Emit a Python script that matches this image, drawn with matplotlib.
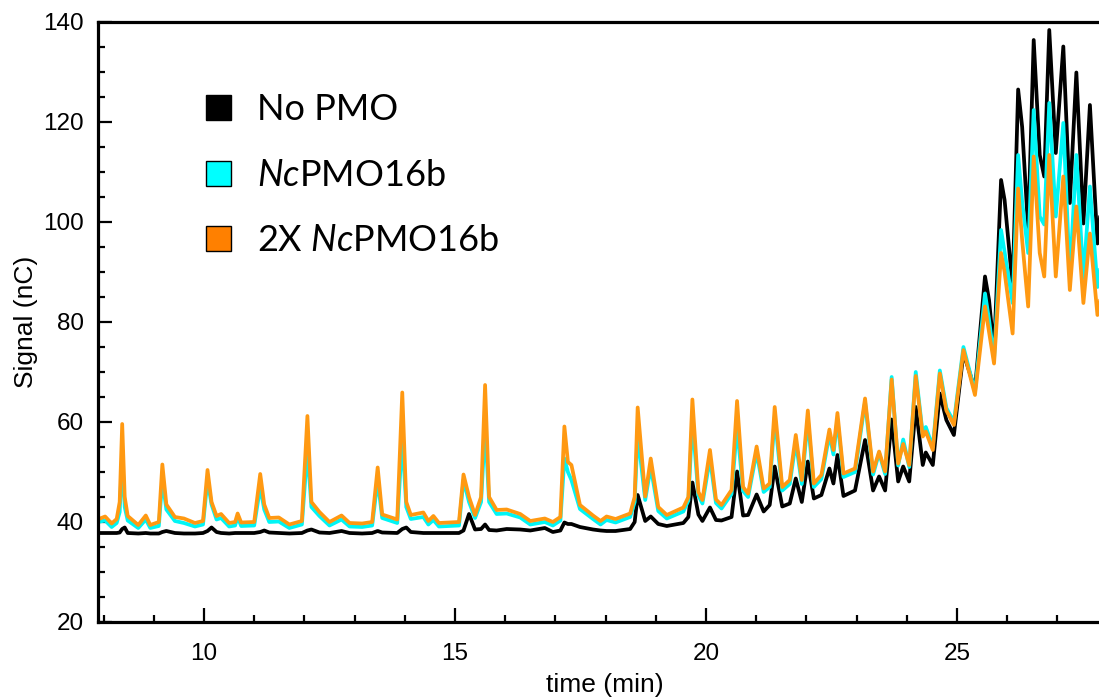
import numpy as np
import matplotlib
matplotlib.use('Agg')
import matplotlib.pyplot as plt
from matplotlib.patches import Patch
from matplotlib.ticker import MultipleLocator

# Chromatogram: retention time (min) and signal (nC)
time_min = [
    7.88, 8.03, 8.16, 8.26, 8.32, 8.37, 8.42, 8.48, 8.69, 8.84, 8.93, 9.10, 9.17, 9.25,
    9.42, 9.60, 9.82, 9.98, 10.07, 10.15, 10.25, 10.34, 10.50, 10.62, 10.67, 10.74,
    11.00, 11.12, 11.20, 11.30, 11.49, 11.70, 11.95, 12.06, 12.14, 12.30, 12.50, 12.74,
    12.90, 13.15, 13.35, 13.46, 13.55, 13.85, 13.95, 14.03, 14.12, 14.37, 14.47, 14.57,
    14.68, 15.08, 15.17, 15.28, 15.40, 15.52, 15.60, 15.68, 15.83, 16.03, 16.30, 16.50,
    16.79, 16.95, 17.10, 17.18, 17.25, 17.32, 17.49, 17.75, 17.90, 18.02, 18.20, 18.49,
    18.58, 18.64, 18.79, 18.90, 19.05, 19.22, 19.55, 19.65, 19.73, 19.85, 19.93, 20.08,
    20.20, 20.31, 20.51, 20.62, 20.74, 20.84, 21.01, 21.15, 21.27, 21.37, 21.52, 21.67,
    21.79, 21.91, 22.03, 22.15, 22.30, 22.46, 22.54, 22.62, 22.74, 22.97, 23.17, 23.33,
    23.45, 23.57, 23.70, 23.83, 23.93, 24.05, 24.18, 24.32, 24.38, 24.52, 24.66, 24.79,
    24.94, 25.13, 25.36, 25.56, 25.64, 25.74, 25.88, 25.95, 26.11, 26.22, 26.30, 26.42,
    26.53, 26.65, 26.74, 26.84, 26.97, 27.12, 27.25, 27.38, 27.52, 27.65, 27.80, 27.92,
]

no_pmo = [
    37.8, 37.8, 37.8, 37.8, 37.9, 38.6, 38.9, 37.8, 37.7, 37.8, 37.7, 37.7, 38.0, 38.2,
    37.8, 37.7, 37.7, 37.8, 38.2, 38.9, 38.0, 37.8, 37.7, 37.8, 37.8, 37.8,
    37.8, 38.0, 38.3, 37.9, 37.8, 37.7, 37.8, 38.3, 38.5, 37.9, 37.8, 38.2,
    37.8, 37.7, 37.8, 38.2, 37.9, 37.8, 38.6, 38.9, 38.0, 37.8, 37.8, 37.8,
    37.8, 37.8, 38.3, 41.6, 38.5, 38.6, 39.5, 38.4, 38.3, 38.6, 38.5, 38.3,
    38.8, 38.0, 38.3, 39.9, 39.6, 39.6, 39.0, 38.5, 38.3, 38.2, 38.2, 38.6,
    40.0, 45.4, 40.2, 41.1, 39.6, 39.2, 39.8, 41.0, 47.9, 41.5, 40.2, 42.9,
    40.4, 40.3, 41.0, 50.1, 41.3, 41.4, 45.5, 42.1, 43.4, 51.1, 43.1, 43.7,
    48.7, 44.0, 52.1, 44.7, 45.4, 50.7, 47.7, 53.4, 45.2, 46.3, 56.4, 46.3,
    49.1, 46.3, 60.5, 48.1, 51.1, 48.1, 63.0, 51.4, 53.9, 51.4, 65.7, 60.4,
    57.4, 73.8, 66.5, 89.1, 84.4, 74.0, 108.4, 104.4, 87.1, 126.5, 119.0, 98.4,
    136.4, 113.4, 109.1, 138.4, 113.8, 135.1, 103.8, 129.9, 99.7, 123.4, 95.7, 108.0,
]

nc_pmo16b = [
    40.0, 40.3, 39.0, 39.8, 42.0, 53.4, 43.0, 40.3, 38.8, 40.5, 38.8, 39.2, 48.4, 42.5,
    40.2, 39.8, 39.1, 39.5, 48.4, 43.5, 40.5, 40.8, 39.1, 39.3, 41.0, 39.2,
    39.3, 47.0, 42.5, 40.0, 40.1, 38.8, 39.5, 54.4, 43.0, 41.2, 39.3, 40.5,
    39.1, 39.0, 39.3, 48.4, 40.8, 39.8, 56.9, 43.0, 40.6, 41.0, 39.5, 40.4,
    39.1, 39.3, 48.4, 44.0, 40.8, 44.0, 59.1, 44.0, 41.6, 41.7, 40.9, 39.5,
    40.0, 39.3, 40.3, 52.7, 50.0, 48.4, 42.6, 40.6, 39.5, 40.4, 39.9, 41.0,
    44.0, 57.7, 44.4, 51.0, 42.2, 40.7, 42.1, 44.3, 60.4, 45.3, 43.7, 52.7,
    43.8, 42.7, 45.6, 59.1, 46.2, 45.0, 54.0, 46.0, 47.0, 61.0, 46.3, 47.6,
    56.0, 47.6, 60.5, 47.0, 48.6, 57.5, 53.5, 60.5, 49.0, 50.0, 64.0, 49.5,
    53.8, 49.6, 69.0, 51.3, 56.5, 51.0, 70.0, 57.5, 59.0, 55.0, 70.3, 62.8,
    60.0, 75.0, 66.0, 85.7, 80.5, 72.5, 98.4, 94.0, 83.8, 113.4, 104.0, 93.8,
    122.4, 101.1, 99.5, 123.8, 101.1, 119.8, 89.1, 113.4, 88.8, 107.1, 87.0, 95.0,
]

nc_pmo16b_2x = [
    40.5, 41.1, 39.7, 40.6, 44.0, 59.6, 45.0, 41.2, 39.4, 41.3, 39.4, 40.0, 51.5, 43.5,
    41.0, 40.7, 39.8, 40.2, 50.4, 44.0, 41.2, 41.6, 39.8, 40.0, 41.7, 39.9,
    40.0, 49.6, 43.5, 40.8, 40.9, 39.5, 40.2, 61.2, 44.0, 42.0, 40.0, 41.3,
    39.8, 39.7, 40.0, 50.9, 41.5, 40.5, 65.9, 44.0, 41.4, 41.9, 40.2, 41.2,
    39.8, 40.0, 49.5, 45.0, 41.4, 45.0, 67.4, 45.0, 42.4, 42.5, 41.6, 40.2,
    40.7, 40.0, 41.0, 59.1, 52.0, 51.4, 43.4, 41.3, 40.2, 41.1, 40.6, 41.7,
    45.0, 62.9, 45.1, 52.7, 43.0, 41.4, 42.9, 45.0, 64.5, 46.0, 44.4, 54.4,
    44.5, 43.4, 46.4, 64.2, 47.0, 45.7, 55.1, 46.7, 47.7, 63.0, 47.0, 48.4,
    57.4, 48.4, 62.3, 47.7, 49.4, 58.5, 54.4, 61.8, 49.7, 50.7, 64.7, 50.1,
    54.1, 50.1, 68.5, 51.7, 55.6, 51.4, 69.2, 57.1, 58.1, 54.4, 69.7, 62.3,
    59.4, 74.4, 65.4, 83.1, 78.0, 71.7, 93.8, 90.0, 77.7, 106.7, 96.4, 83.1,
    113.1, 93.8, 89.1, 113.4, 89.1, 109.1, 86.4, 103.1, 83.8, 97.7, 81.4, 88.0,
]

series_labels = ['No PMO', r'$\mathit{Nc}$PMO16b', r'2X $\mathit{Nc}$PMO16b']
line_colors = ['black', '#00f5f5', '#ff9912']
patch_colors = ['black', '#00ffff', '#ff8000']

plt.rcParams['font.family'] = ['Liberation Sans', 'DejaVu Sans']
plt.rcParams['mathtext.fontset'] = 'custom'
plt.rcParams['mathtext.it'] = 'Lato:italic'
plt.rcParams['mathtext.rm'] = 'Lato'

fig = plt.figure(figsize=(10.99, 6.98), dpi=100)
ax = fig.add_axes([98 / 1099, 76 / 698, 1014 / 1099, 600 / 698])

for vals, col in zip([no_pmo, nc_pmo16b, nc_pmo16b_2x], line_colors):
    ax.plot(time_min, vals, color=col, lw=2.7, solid_joinstyle='round')

ax.set_xlim(7.888, 28.09)
ax.set_ylim(20, 140)
ax.xaxis.set_major_locator(MultipleLocator(5))
ax.xaxis.set_minor_locator(MultipleLocator(1))
ax.yaxis.set_major_locator(MultipleLocator(20))
ax.yaxis.set_minor_locator(MultipleLocator(5))
ax.tick_params(which='both', direction='in', top=False, right=False,
               labelsize=17.5, width=1.6, color='black')
ax.tick_params(which='major', length=10)
ax.tick_params(which='minor', length=5)
ax.tick_params(axis='x', pad=15)
ax.tick_params(axis='y', pad=10)
for side in ['left', 'bottom', 'top']:
    ax.spines[side].set_linewidth(2.3)
ax.spines['right'].set_visible(False)

ax.set_xlabel('time (min)', fontsize=19, labelpad=6)
ax.set_ylabel('Signal (nC)', fontsize=19, labelpad=4)

handles = [Patch(facecolor=c, edgecolor='black', lw=1) for c in patch_colors]
fig.legend(handles, series_labels, loc='upper left', bbox_to_anchor=(0.171, 0.892),
           frameon=False, borderpad=0, handlelength=0.68, handleheight=0.68,
           handletextpad=0.72, labelspacing=0.9,
           prop={'family': 'Lato', 'size': 26})

fig.savefig('out.png', dpi=100)
